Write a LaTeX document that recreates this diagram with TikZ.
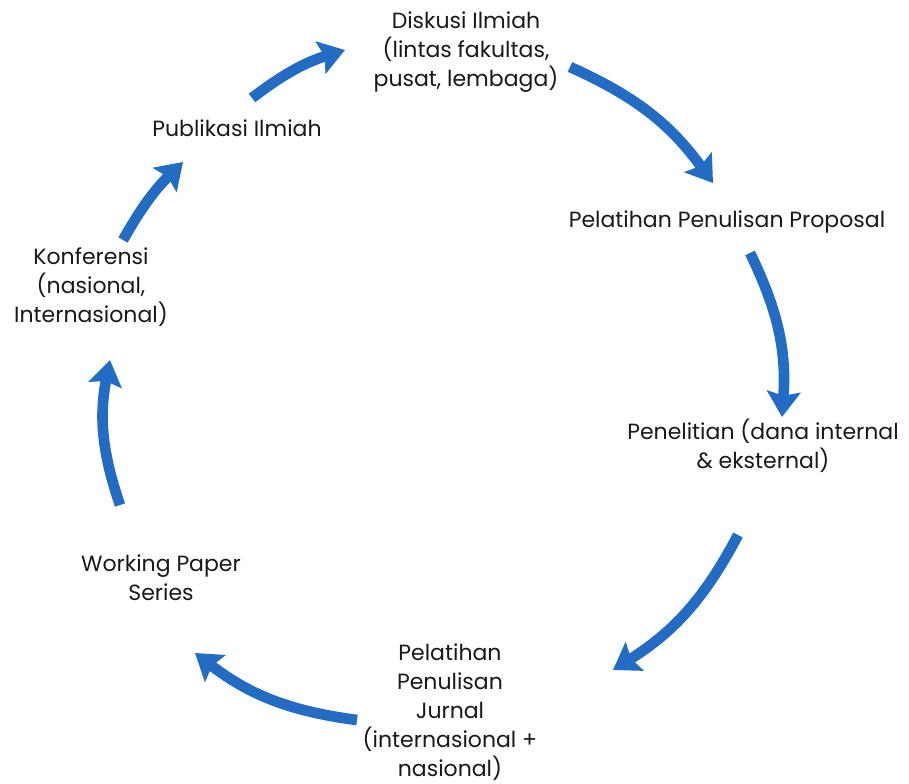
\documentclass[tikz,border=0pt]{standalone}
\usepackage{fontspec}
\setmainfont{Poppins}
\usepackage{tikz}
\usetikzlibrary{arrows.meta,positioning}
\definecolor{cycleblue}{RGB}{34,108,196}

\begin{document}
\begin{tikzpicture}[
    x=0.75pt, y=-0.75pt,
    font=\fontsize{16.5}{21.75}\selectfont,
    stage/.style={
		align=center,
		text=black!90,
		inner sep=0pt
	},
	cyclearrow/.style={
		draw=cycleblue,
		line width=8pt,
		-{Stealth[length=19pt, width=25pt, inset=3pt]},
		bend left=15
	}
  ]

 \useasboundingbox (0,0) rectangle (909,784);

% // The stages
 \node [stage] (diskusi) at (466,52) {Diskusi Ilmiah\\(lintas fakultas,\\pusat, lembaga)};
 \node [stage] (proposal) at (727,222) {Pelatihan Penulisan Proposal};
 \node [stage] (penelitian) at (763,446) {Penelitian (dana internal\\\& eksternal)};
 \node [stage] (jurnal) at (450,712) {Pelatihan\\Penulisan\\Jurnal\\(internasional +\\nasional)};
 \node [stage] (working) at (161,578) {Working Paper\\Series};
 \node [stage] (konferensi) at (91,287) {Konferensi\\(nasional,\\Internasional)};
 \node [stage] (publikasi) at (237,128) {Publikasi Ilmiah};

% // arrow ends
 \coordinate (d1) at (570,67);   \coordinate (d2) at (713,183);
 \coordinate (p1) at (750,253);  \coordinate (p2) at (782,417);
 \coordinate (n1) at (738,535);  \coordinate (n2) at (613,670);
 \coordinate (j1) at (357,720);  \coordinate (j2) at (195,653);
 \coordinate (w1) at (120,505);  \coordinate (w2) at (110,360);
 \coordinate (k1) at (123,240);  \coordinate (k2) at (183,162);
 \coordinate (u1) at (252,98);   \coordinate (u2) at (345,50);

% // The cycle
 \draw [cyclearrow] (d1) to (d2);
 \draw [cyclearrow] (p1) to (p2);
 \draw [cyclearrow] (n1) to (n2);
 \draw [cyclearrow] (j1) to (j2);
 \draw [cyclearrow] (w1) to (w2);
 \draw [cyclearrow, bend left=8] (k1) to (k2);
 \draw [cyclearrow, bend left=10] (u1) to (u2);

\end{tikzpicture}
\end{document}
